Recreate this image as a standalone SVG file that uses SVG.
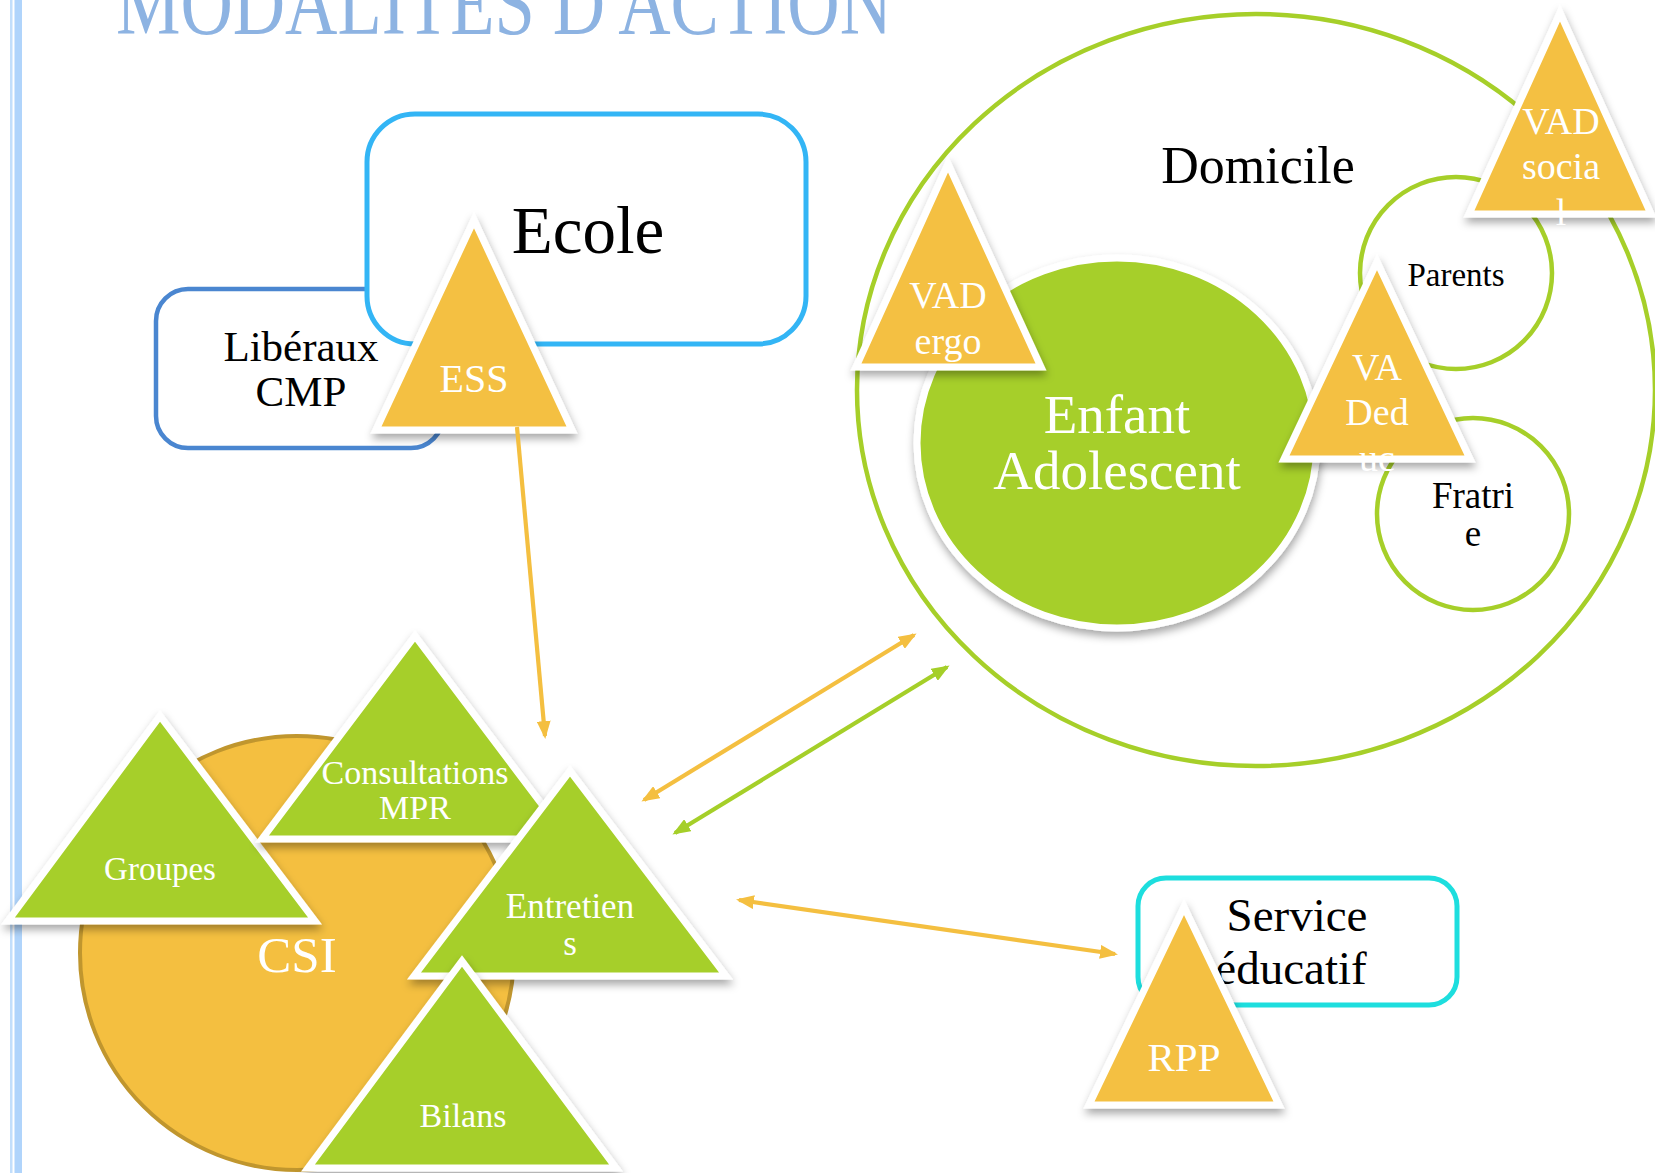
<svg xmlns="http://www.w3.org/2000/svg" width="1655" height="1173" viewBox="0 0 1655 1173">
<defs>
<filter id="sh" x="-20%" y="-20%" width="140%" height="150%">
<feDropShadow dx="1" dy="5" stdDeviation="4" flood-color="#000" flood-opacity="0.35"/>
</filter>
<marker id="ao" viewBox="0 0 18 14" refX="15" refY="7" markerWidth="18" markerHeight="14" markerUnits="userSpaceOnUse" orient="auto-start-reverse">
<path d="M0,0 L18,7 L0,14 z" fill="#f4bf40"/>
</marker>
<marker id="ag" viewBox="0 0 18 14" refX="15" refY="7" markerWidth="18" markerHeight="14" markerUnits="userSpaceOnUse" orient="auto-start-reverse">
<path d="M0,0 L18,7 L0,14 z" fill="#a5cf29"/>
</marker>
</defs>
<style>
text{font-family:"Liberation Serif","Times New Roman",serif;text-anchor:middle}
.tri-o{fill:#f4c043;stroke:#fff;stroke-width:7;stroke-linejoin:miter;filter:url(#sh)}
.tri-g{fill:#a6cf29;stroke:#fff;stroke-width:7;stroke-linejoin:miter;filter:url(#sh)}
.wt{fill:#fff}
.bk{fill:#000}
.ring{fill:#fff;stroke:#a6cf29;stroke-width:4.5}
.con-o{stroke:#f4bf40;stroke-width:4.2;fill:none}
.con-g{stroke:#a5cf29;stroke-width:4.2;fill:none}
</style>
<rect width="1655" height="1173" fill="#fff"/>
<rect x="10" y="0" width="2.5" height="1173" fill="#c2defb"/>
<rect x="14.5" y="0" width="7.5" height="1173" fill="#b0d4fb"/>
<text x="116" y="34" font-size="90" fill="#8db3e2" style="text-anchor:start" textLength="776" lengthAdjust="spacingAndGlyphs">MODALITES D'ACTION</text>

<g id="domicile">
<ellipse cx="1256" cy="390" rx="399" ry="376" class="ring"/>
<text x="1258" y="183" font-size="52" class="bk">Domicile</text>
</g>
<g id="parents">
<circle cx="1456" cy="273" r="96" class="ring"/>
<text x="1456" y="286" font-size="33" class="bk">Parents</text>
</g>
<g id="fratrie">
<circle cx="1473" cy="514" r="96" class="ring"/>
<text x="1473" y="508" font-size="37" class="bk">Fratri</text>
<text x="1473" y="546" font-size="37" class="bk">e</text>
</g>
<g id="enfant">
<ellipse cx="1117" cy="443" rx="200" ry="185" fill="#a6cf29" stroke="#fff" stroke-width="7" filter="url(#sh)"/>
<text x="1117" y="433" font-size="55" class="wt">Enfant</text>
<text x="1117" y="489" font-size="55" class="wt">Adolescent</text>
</g>
<g id="vad-ergo">
<polygon points="948,164 856,367 1041,367" class="tri-o"/>
<text x="948" y="308" font-size="38" class="wt">VAD</text>
<text x="948" y="354" font-size="38" class="wt">ergo</text>
</g>
<g id="vad-deduc">
<polygon points="1377,262 1284,459 1470,459" class="tri-o"/>
<text x="1377" y="380" font-size="38" class="wt">VA</text>
<text x="1377" y="425" font-size="38" class="wt">Ded</text>
<text x="1377" y="471" font-size="38" class="wt">uc</text>
</g>
<g id="vad-social">
<polygon points="1560,13 1469,214 1651,214" class="tri-o"/>
<text x="1561" y="134" font-size="38" class="wt">VAD</text>
<text x="1561" y="179" font-size="38" class="wt">socia</text>
<text x="1561" y="225" font-size="38" class="wt">l</text>
</g>

<g id="liberaux">
<rect x="156" y="289" width="287" height="159" rx="32" fill="#fff" stroke="#4a86d0" stroke-width="4.5"/>
<text x="301" y="361" font-size="43" class="bk">Libéraux</text>
<text x="301" y="406" font-size="43" class="bk">CMP</text>
</g>
<g id="ecole">
<rect x="367" y="114" width="439" height="230" rx="48" fill="#fff" stroke="#33b5f5" stroke-width="5"/>
<text x="588" y="253" font-size="67" class="bk">Ecole</text>
</g>
<g id="ess">
<polygon points="474,220 376,430 572,430" class="tri-o"/>
<text x="474" y="392" font-size="40" class="wt">ESS</text>
</g>

<g id="csi">
<circle cx="297" cy="953" r="217" fill="#f4bf40" stroke="#c0962e" stroke-width="4"/>
<text x="297" y="972" font-size="51" class="wt">CSI</text>
</g>
<g id="groupes">
<polygon points="160,716 8,921 315,921" class="tri-g"/>
<text x="160" y="880" font-size="33" class="wt">Groupes</text>
</g>
<g id="consultations">
<polygon points="415,636 262,839 568,839" class="tri-g"/>
<text x="415" y="784" font-size="34" class="wt">Consultations</text>
<text x="415" y="819" font-size="34" class="wt">MPR</text>
</g>
<g id="entretiens">
<polygon points="570,771 414,976 726,976" class="tri-g"/>
<text x="570" y="918" font-size="35" class="wt">Entretien</text>
<text x="570" y="955" font-size="35" class="wt">s</text>
</g>
<g id="bilans">
<polygon points="462,961 308,1168 616,1168" class="tri-g"/>
<text x="463" y="1127" font-size="34" class="wt">Bilans</text>
</g>

<g id="service">
<rect x="1138" y="878" width="319" height="127" rx="28" fill="#fff" stroke="#1ddede" stroke-width="5"/>
<text x="1297" y="931" font-size="47" class="bk">Service</text>
<text x="1291" y="984" font-size="47" class="bk">éducatif</text>
</g>
<g id="rpp">
<polygon points="1184,907 1089,1105 1279,1105" class="tri-o"/>
<text x="1184" y="1071" font-size="41" class="wt">RPP</text>
</g>

<g id="connectors">
<line x1="517" y1="427" x2="545" y2="736" class="con-o" marker-end="url(#ao)"/>
<line x1="644" y1="800" x2="914" y2="635" class="con-o" marker-start="url(#ao)" marker-end="url(#ao)"/>
<line x1="675" y1="833" x2="947" y2="667" class="con-g" marker-start="url(#ag)" marker-end="url(#ag)"/>
<line x1="739" y1="900" x2="1115" y2="954" class="con-o" marker-start="url(#ao)" marker-end="url(#ao)"/>
</g>
</svg>
